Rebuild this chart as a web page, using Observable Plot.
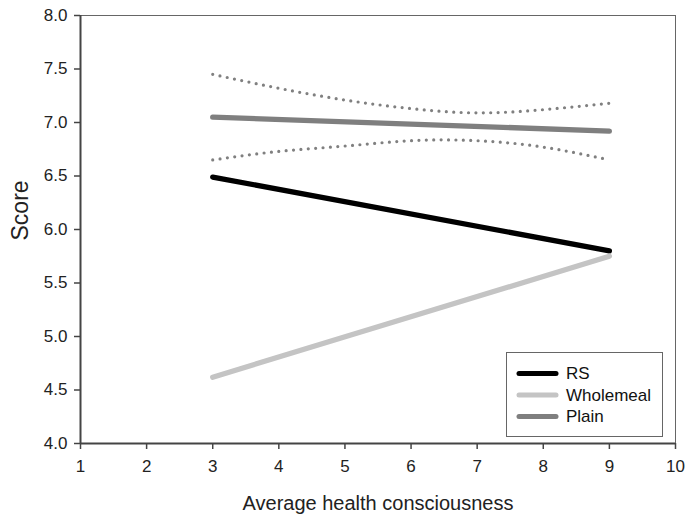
<!DOCTYPE html>
<html>
<head>
<meta charset="utf-8">
<script src="https://cdn.jsdelivr.net/npm/d3@7"></script>
<script src="https://cdn.jsdelivr.net/npm/@observablehq/plot@0.6"></script>
<style>
  html, body { margin: 0; padding: 0; background: #fff; }
  #chart { position: relative; width: 685px; height: 514px; }
</style>
</head>
<body>
<div id="chart"></div>
<script>
// ---- data ----
const xEnds = [3, 9];
const rsScore = [6.49, 5.80];
const wholemealScore = [4.62, 5.75];
const plainScore = [7.05, 6.92];
const ciX = [3, 4, 5, 6, 7, 8, 9];
const ciUpper = [7.45, 7.32, 7.21, 7.13, 7.09, 7.12, 7.18];
const ciLower = [6.65, 6.73, 6.78, 6.83, 6.83, 6.77, 6.65];
const xTicks = [1, 2, 3, 4, 5, 6, 7, 8, 9, 10];
const yTicks = [4.0, 4.5, 5.0, 5.5, 6.0, 6.5, 7.0, 7.5, 8.0];
const seriesNames = ["RS", "Wholemeal", "Plain"];
const seriesColors = ["#000000", "#c4c4c4", "#7f7f7f"];
const xTitle = "Average health consciousness";
const yTitle = "Score";

// ---- build tables ----
const lines = [
  ...xEnds.map((x, i) => ({x, y: rsScore[i], s: "RS"})),
  ...xEnds.map((x, i) => ({x, y: wholemealScore[i], s: "Wholemeal"})),
  ...xEnds.map((x, i) => ({x, y: plainScore[i], s: "Plain"}))
];
const ci = [
  ...ciX.map((x, i) => ({x, y: ciUpper[i], b: "upper"})),
  ...ciX.map((x, i) => ({x, y: ciLower[i], b: "lower"}))
];

const font = "'Liberation Sans', Arial, Helvetica, sans-serif";

const plot = Plot.plot({
  width: 685,
  height: 514,
  marginLeft: 80,
  marginRight: 10,
  marginTop: 15,
  marginBottom: 71,
  style: {fontFamily: font, fontSize: "17px", color: "#222", background: "#fff"},
  x: {domain: [1, 10]},
  y: {domain: [4, 8]},
  color: {domain: seriesNames, range: seriesColors},
  marks: [
    Plot.axisX({ticks: xTicks, tickSize: 6, tickPadding: 10, label: null, stroke: "#444", strokeWidth: 1.5, fontSize: 17}),
    Plot.axisY({ticks: yTicks, tickSize: 6, tickPadding: 7, tickFormat: d3.format(".1f"), label: null, stroke: "#444", strokeWidth: 1.5, fontSize: 17}),
    Plot.ruleY([8], {stroke: "#666", strokeWidth: 1}),
    Plot.ruleX([10], {stroke: "#666", strokeWidth: 1}),
    Plot.ruleX([1], {stroke: "#444", strokeWidth: 2}),
    Plot.ruleY([4], {stroke: "#444", strokeWidth: 2}),
    Plot.line(ci, {x: "x", y: "y", z: "b", curve: "natural", stroke: "#808080", strokeWidth: 3.2, strokeDasharray: "0,7.4", strokeLinecap: "round"}),
    Plot.line(lines, {x: "x", y: "y", z: "s", stroke: "s", strokeWidth: 5.3, strokeLinecap: "round"}),
    Plot.text([xTitle], {frameAnchor: "bottom", lineAnchor: "bottom", dy: 66, fontSize: 20, fill: "#222"}),
    Plot.text([yTitle], {frameAnchor: "left", lineAnchor: "bottom", rotate: -90, dx: -53, dy: 11, fontSize: 23, fill: "#222"})
  ]
});

document.getElementById("chart").appendChild(plot);

// ---- legend (inside plot area, bottom right) ----
const svg = d3.select(plot);
const lg = svg.append("g").attr("font-family", font).attr("font-size", 17).attr("text-anchor", "start");
lg.append("rect").attr("x", 506.5).attr("y", 352.5).attr("width", 156).attr("height", 84)
  .attr("fill", "#fff").attr("stroke", "#666").attr("stroke-width", 1);
seriesNames.forEach((name, i) => {
  const cy = 373.5 + i * 21.5;
  lg.append("line").attr("x1", 519).attr("x2", 556).attr("y1", cy).attr("y2", cy)
    .attr("stroke", seriesColors[i]).attr("stroke-width", 5).attr("stroke-linecap", "round");
  lg.append("text").attr("x", 566).attr("y", cy).attr("dy", "0.35em").attr("text-anchor", "start").attr("fill", "#111").text(name);
});
</script>
</body>
</html>
